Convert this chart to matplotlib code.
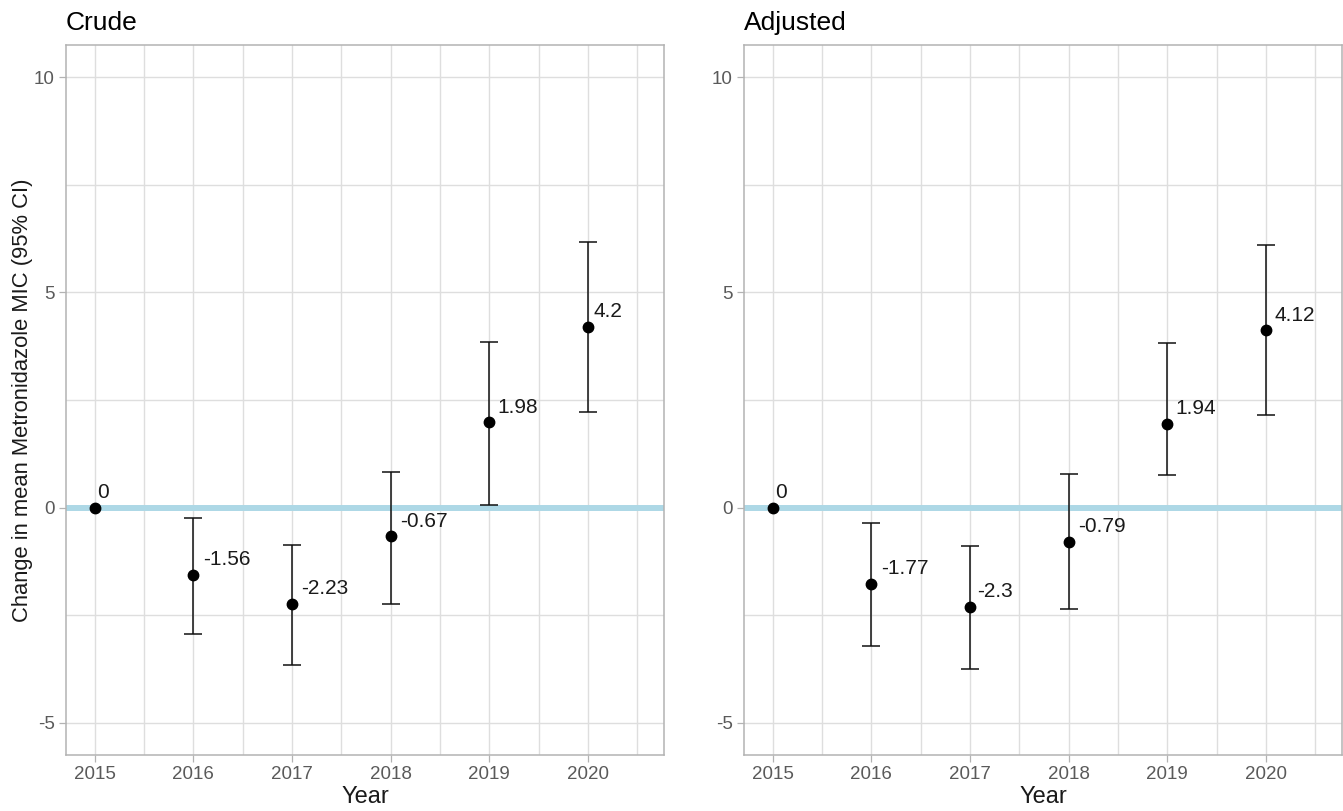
import numpy as np
import matplotlib
matplotlib.use("Agg")
import matplotlib.pyplot as plt
from matplotlib.ticker import MultipleLocator
from matplotlib.transforms import offset_copy

plt.rcParams['font.family'] = ['Liberation Sans', 'DejaVu Sans']
plt.rcParams['axes.unicode_minus'] = False

years = [2015, 2016, 2017, 2018, 2019, 2020]

crude_est = [0, -1.56, -2.23, -0.67, 1.98, 4.2]
crude_lo = [0, -2.93, -3.66, -2.24, 0.07, 2.23]
crude_hi = [0, -0.24, -0.86, 0.83, 3.85, 6.17]

adj_est = [0, -1.77, -2.3, -0.79, 1.94, 4.12]
adj_lo = [0, -3.21, -3.74, -2.35, 0.76, 2.16]
adj_hi = [0, -0.37, -0.89, 0.77, 3.82, 6.11]

panels = [("Crude", crude_est, crude_lo, crude_hi),
          ("Adjusted", adj_est, adj_lo, adj_hi)]

fig = plt.figure(figsize=(13.43, 8.11), dpi=100)
W, H = 1343, 811
lefts = [66, 744]
grid_c = '#dedede'
frame_c = '#b3b3b3'

for i, (title, est, lo, hi) in enumerate(panels):
    ax = fig.add_axes([lefts[i] / W, (H - 755) / H, 598 / W, 710 / H])
    est = np.array(est, dtype=float)
    lo = np.array(lo, dtype=float)
    hi = np.array(hi, dtype=float)

    ax.set_xlim(2014.71, 2020.77)
    ax.set_ylim(-5.75, 10.75)
    ax.xaxis.set_major_locator(MultipleLocator(1))
    ax.xaxis.set_minor_locator(MultipleLocator(0.5))
    ax.yaxis.set_major_locator(MultipleLocator(5))
    ax.yaxis.set_minor_locator(MultipleLocator(2.5))
    ax.grid(which='both', color=grid_c, linewidth=1.0, zorder=0)
    ax.set_axisbelow(True)
    ax.tick_params(which='minor', length=0)
    ax.tick_params(which='major', length=5, width=0.9, color=frame_c,
                   labelsize=13.5, labelcolor='#5a5a5a', pad=3)
    for s in ax.spines.values():
        s.set_color(frame_c)
        s.set_linewidth(1.1)

    ax.axhline(0, color='#add8e6', linewidth=4.3, zorder=2)

    # reference year has no interval
    has_ci = hi > lo
    ax.errorbar(np.array(years)[has_ci], est[has_ci],
                yerr=[est[has_ci] - lo[has_ci], hi[has_ci] - est[has_ci]],
                fmt='none', ecolor='#111111', elinewidth=1.1, capsize=6.8,
                capthick=1.1, zorder=3)
    ax.plot(years, est, 'o', color='black', markersize=7.5, zorder=4)

    fig.canvas.draw()
    r = fig.canvas.get_renderer()
    for x, y in zip(years, est):
        lab = f"{y:g}"
        t = ax.text(x, y, lab, fontsize=15, color='#1a1a1a',
                    ha='left', va='center', zorder=5)
        w = t.get_window_extent(renderer=r).width * 72 / fig.dpi
        t.set_transform(offset_copy(ax.transData, fig=fig,
                                    x=0.2 * w, y=11, units='points'))

    ax.set_title(title, loc='left', fontsize=19, pad=11, color='black')
    ax.set_xlabel('Year', fontsize=17, labelpad=2, color='#1a1a1a')
    if i == 0:
        ax.set_ylabel('Change in mean Metronidazole MIC (95% CI)',
                      fontsize=15.8, color='#1a1a1a')
        ax.yaxis.set_label_coords(-0.056, 0.5)

fig.savefig('out.png', dpi=100)
